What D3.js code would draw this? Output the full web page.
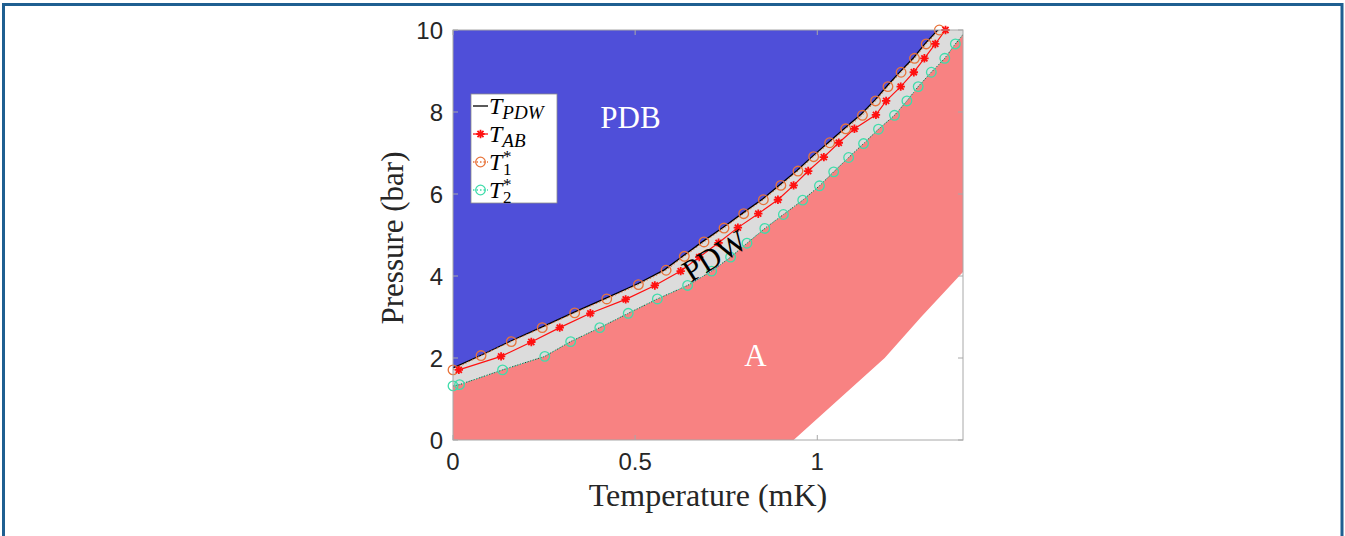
<!DOCTYPE html>
<html>
<head>
<meta charset="utf-8">
<script src="https://cdn.jsdelivr.net/npm/d3@7"></script>
<style>
  html, body { margin: 0; padding: 0; background: #ffffff; }
  svg { display: block; }
</style>
</head>
<body>
<svg id="phase-chart"></svg>
<script>
// ----- Data: [temperature (mK), pressure (bar)] -----

// T_PDW line (upper edge of the PDW region)
const t_pdw_points = [
    [0, 1.76], [0.08, 2.08], [0.16, 2.42], [0.245, 2.76], [0.333, 3.12], [0.42, 3.46],
    [0.507, 3.81], [0.58, 4.15], [0.633, 4.5], [0.687, 4.85], [0.742, 5.19], [0.796, 5.54],
    [0.85, 5.88], [0.898, 6.23], [0.945, 6.58], [0.988, 6.93], [1.032, 7.27], [1.076, 7.61],
    [1.121, 7.95], [1.158, 8.29], [1.192, 8.64], [1.228, 8.99], [1.265, 9.33], [1.297, 9.68],
    [1.333, 10.02]
];

// T_AB points (red stars)
const t_ab_points = [
    [0.016, 1.71], [0.132, 2.04], [0.215, 2.39], [0.293, 2.74], [0.377, 3.09], [0.474, 3.43],
    [0.554, 3.77], [0.625, 4.12], [0.676, 4.46], [0.729, 4.81], [0.782, 5.18], [0.838, 5.52],
    [0.892, 5.86], [0.935, 6.21], [0.975, 6.56], [1.018, 6.9], [1.059, 7.25], [1.102, 7.59],
    [1.161, 7.93], [1.189, 8.27], [1.229, 8.62], [1.265, 8.97], [1.294, 9.31], [1.324, 9.66],
    [1.352, 10.0]
];

// T1* points (orange circles)
const t1_star_points = [
    [0, 1.71], [0.077, 2.06], [0.16, 2.4], [0.245, 2.74], [0.334, 3.1], [0.422, 3.44],
    [0.509, 3.79], [0.585, 4.14], [0.635, 4.48], [0.689, 4.83], [0.744, 5.17], [0.798, 5.52],
    [0.852, 5.86], [0.9, 6.21], [0.947, 6.56], [0.99, 6.91], [1.034, 7.25], [1.078, 7.59],
    [1.124, 7.92], [1.16, 8.27], [1.194, 8.62], [1.23, 8.97], [1.267, 9.31], [1.299, 9.66],
    [1.335, 10.0]
];

// T2* points (green circles, lower edge of the PDW region)
const t2_star_points = [
    [0, 1.32], [0.018, 1.35], [0.136, 1.71], [0.252, 2.04], [0.323, 2.4], [0.403, 2.74],
    [0.481, 3.09], [0.561, 3.44], [0.644, 3.77], [0.71, 4.12], [0.762, 4.46], [0.807, 4.8],
    [0.856, 5.16], [0.907, 5.5], [0.96, 5.85], [1.006, 6.2], [1.045, 6.54], [1.086, 6.89],
    [1.127, 7.23], [1.168, 7.58], [1.212, 7.92], [1.246, 8.27], [1.277, 8.62], [1.313, 8.97],
    [1.35, 9.31], [1.379, 9.66], [1.415, 10.05]
];

// Lower edge of the A region (white area below it)
const a_lower_points = [[0.935, 0], [1.06, 1.0], [1.185, 2.0], [1.285, 3.0], [1.40, 4.1], [1.42, 4.3]];

// Axis ticks
const x_ticks = [0, 0.5, 1];
const x_tick_labels = ["0", "0.5", "1"];
const y_ticks = [0, 2, 4, 6, 8, 10];
const y_tick_labels = ["0", "2", "4", "6", "8", "10"];

// Region labels
const region_labels = [
    { text: "PDB", T: 0.487, P: 7.6, color: "#ffffff", angle: 0 },
    { text: "A", T: 0.830, P: 1.80, color: "#ffffff", angle: 0 },
    { text: "PDW", T: 0.733, P: 4.28, color: "#000000", angle: -32 }
];

// ----- Layout -----
const width = 1345, height = 536;
const plot_left = 453, plot_right = 963, plot_top = 30, plot_bottom = 440;

const svg = d3.select('#phase-chart')
    .attr('width', width)
    .attr('height', height);

// Outer frame around the figure
svg.append('rect')
    .attr('x', 3.5).attr('y', 4.5)
    .attr('width', 1338.5).attr('height', 540)
    .attr('fill', 'none')
    .attr('stroke', '#1f5f91')
    .attr('stroke-width', 3);

const x = d3.scaleLinear().domain([0, 1.4]).range([plot_left, plot_right]);
const y = d3.scaleLinear().domain([0, 10]).range([plot_bottom, plot_top]);

svg.append('clipPath').attr('id', 'plot-clip')
    .append('rect')
    .attr('x', plot_left).attr('y', plot_top)
    .attr('width', plot_right - plot_left).attr('height', plot_bottom - plot_top);

const plot = svg.append('g').attr('clip-path', 'url(#plot-clip)');

const x_min = x.domain()[0], x_max = x.domain()[1];
const y_min = y.domain()[0], y_max = y.domain()[1];

const polygon = d3.line().x(d => x(d[0])).y(d => y(d[1]));
const curve = d3.line().x(d => x(d[0])).y(d => y(d[1]));

// PDB region (everything above T_PDW)
plot.append('rect')
    .attr('x', plot_left).attr('y', plot_top)
    .attr('width', plot_right - plot_left).attr('height', plot_bottom - plot_top)
    .attr('fill', '#4f4fd9');

// PDW region (below T_PDW)
plot.append('path')
    .attr('d', polygon([[x_min, y_min]].concat(t_pdw_points, [[x_max + 0.1, y_max + 0.1], [x_max + 0.1, y_min]])) + 'Z')
    .attr('fill', '#dcdcdc');

// A region (below T2*)
plot.append('path')
    .attr('d', polygon([[x_min, y_min]].concat(t2_star_points, [[x_max + 0.1, y_max + 0.1], [x_max + 0.1, y_min]])) + 'Z')
    .attr('fill', '#f88282');

// White area under the A region
plot.append('path')
    .attr('d', polygon(a_lower_points.concat([[x_max + 0.1, y_min]])) + 'Z')
    .attr('fill', '#ffffff');

// Dotted dark edge of the A region
plot.append('path')
    .attr('d', curve(t2_star_points))
    .attr('fill', 'none')
    .attr('stroke', '#1c3a2e')
    .attr('stroke-width', 1)
    .attr('stroke-dasharray', '1.2,1.5');

// T_PDW black line
plot.append('path')
    .attr('d', curve(t_pdw_points))
    .attr('fill', 'none')
    .attr('stroke', '#000000')
    .attr('stroke-width', 1.3);

// Star marker like MATLAB '*'
function star_path(r) {
    const a = r * 0.72;
    return 'M' + (-r) + ',0L' + r + ',0M0,' + (-r) + 'L0,' + r +
        'M' + (-a) + ',' + (-a) + 'L' + a + ',' + a + 'M' + (-a) + ',' + a + 'L' + a + ',' + (-a);
}

const inside = d => d[0] >= x_min && d[0] <= x_max && d[1] >= y_min && d[1] <= y_max;

// Markers are not clipped (like MATLAB)
const markers = svg.append('g');

// T_AB red line
plot.append('path')
    .attr('d', curve(t_ab_points))
    .attr('fill', 'none')
    .attr('stroke', '#ff1010')
    .attr('stroke-width', 1.2);

// T1* orange dotted line
plot.append('path')
    .attr('d', curve(t1_star_points))
    .attr('fill', 'none')
    .attr('stroke', '#e8743b')
    .attr('stroke-width', 1)
    .attr('stroke-dasharray', '1.5,2');

// T2* green dotted line
plot.append('path')
    .attr('d', curve(t2_star_points))
    .attr('fill', 'none')
    .attr('stroke', '#3fdcaa')
    .attr('stroke-width', 1)
    .attr('stroke-dasharray', '1.5,2');

markers.selectAll('.t1-circle')
    .data(t1_star_points.filter(inside))
    .enter()
    .append('circle')
    .attr('class', 't1-circle')
    .attr('cx', d => x(d[0]))
    .attr('cy', d => y(d[1]))
    .attr('r', 4.8)
    .attr('fill', 'none')
    .attr('stroke', '#e8743b')
    .attr('stroke-width', 1.3);

markers.selectAll('.t2-circle')
    .data(t2_star_points.filter(inside))
    .enter()
    .append('circle')
    .attr('class', 't2-circle')
    .attr('cx', d => x(d[0]))
    .attr('cy', d => y(d[1]))
    .attr('r', 4.8)
    .attr('fill', 'none')
    .attr('stroke', '#3fdcaa')
    .attr('stroke-width', 1.3);

markers.selectAll('.ab-star')
    .data(t_ab_points.filter(inside))
    .enter()
    .append('path')
    .attr('class', 'ab-star')
    .attr('transform', d => 'translate(' + x(d[0]) + ',' + y(d[1]) + ')')
    .attr('d', star_path(4.2))
    .attr('stroke', '#ff1010')
    .attr('stroke-width', 1.8)
    .attr('fill', 'none');

// Region labels
region_labels.forEach(function (lbl) {
    svg.append('text')
        .attr('transform', 'translate(' + x(lbl.T) + ',' + y(lbl.P) + ') rotate(' + lbl.angle + ')')
        .attr('text-anchor', 'middle')
        .style('font-family', '"Liberation Serif", serif')
        .style('font-size', '31px')
        .attr('fill', lbl.color)
        .text(lbl.text);
});

// Axes box
svg.append('rect')
    .attr('x', plot_left).attr('y', plot_top)
    .attr('width', plot_right - plot_left).attr('height', plot_bottom - plot_top)
    .attr('fill', 'none')
    .attr('stroke', '#a8a8a8')
    .attr('stroke-width', 1);

// Tick marks (inside, on all four sides)
x_ticks.forEach(function (t) {
    svg.append('line').attr('x1', x(t)).attr('x2', x(t)).attr('y1', plot_bottom).attr('y2', plot_bottom - 5)
        .attr('stroke', '#a8a8a8');
    svg.append('line').attr('x1', x(t)).attr('x2', x(t)).attr('y1', plot_top).attr('y2', plot_top + 5)
        .attr('stroke', '#a8a8a8');
});
y_ticks.forEach(function (p) {
    svg.append('line').attr('x1', plot_left).attr('x2', plot_left + 5).attr('y1', y(p)).attr('y2', y(p))
        .attr('stroke', '#a8a8a8');
    svg.append('line').attr('x1', plot_right).attr('x2', plot_right - 5).attr('y1', y(p)).attr('y2', y(p))
        .attr('stroke', '#a8a8a8');
});

// Tick labels
svg.selectAll('.x-tick-label')
    .data(x_ticks)
    .enter()
    .append('text')
    .attr('class', 'x-tick-label')
    .attr('x', d => x(d))
    .attr('y', 470)
    .attr('text-anchor', 'middle')
    .style('font-family', '"Liberation Sans", Arial, sans-serif')
    .style('font-size', '24px')
    .attr('fill', '#262626')
    .text((d, i) => x_tick_labels[i]);

svg.selectAll('.y-tick-label')
    .data(y_ticks)
    .enter()
    .append('text')
    .attr('class', 'y-tick-label')
    .attr('x', 443)
    .attr('y', d => y(d) + 9)
    .attr('text-anchor', 'end')
    .style('font-family', '"Liberation Sans", Arial, sans-serif')
    .style('font-size', '24px')
    .attr('fill', '#262626')
    .text((d, i) => y_tick_labels[i]);

// Axis titles
svg.append('text')
    .attr('x', 708).attr('y', 506)
    .attr('text-anchor', 'middle')
    .style('font-family', '"Liberation Serif", serif')
    .style('font-size', '32px')
    .attr('fill', '#262626')
    .text('Temperature (mK)');

svg.append('text')
    .attr('transform', 'translate(403,238) rotate(-90)')
    .attr('text-anchor', 'middle')
    .style('font-family', '"Liberation Serif", serif')
    .style('font-size', '31px')
    .attr('fill', '#262626')
    .text('Pressure (bar)');

// ----- Legend -----
const legend = svg.append('g').attr('transform', 'translate(471,94)');
legend.append('rect')
    .attr('width', 86).attr('height', 109)
    .attr('fill', '#ffffff')
    .attr('stroke', '#8c8c8c')
    .attr('stroke-width', 0.8);

const legend_rows = [
    { color: '#000000', dash: null, marker: null, sub: 'PDW', sub_italic: true, sup: null },
    { color: '#ff1010', dash: null, marker: 'star', sub: 'AB', sub_italic: true, sup: null },
    { color: '#e8743b', dash: '1.5,2', marker: 'circle', sub: '1', sub_italic: false, sup: '*' },
    { color: '#3fdcaa', dash: '1.5,2', marker: 'circle', sub: '2', sub_italic: false, sup: '*' }
];

legend_rows.forEach(function (row, i) {
    const cy = 12 + i * 28;
    legend.append('line')
        .attr('x1', 2).attr('x2', 17).attr('y1', cy).attr('y2', cy)
        .attr('stroke', row.color)
        .attr('stroke-width', 1.3)
        .attr('stroke-dasharray', row.dash);
    if (row.marker === 'star') {
        legend.append('path')
            .attr('transform', 'translate(9.5,' + cy + ')')
            .attr('d', star_path(4.2))
            .attr('stroke', row.color).attr('stroke-width', 1.8).attr('fill', 'none');
    } else if (row.marker === 'circle') {
        legend.append('circle')
            .attr('cx', 9.5).attr('cy', cy).attr('r', 4.8)
            .attr('fill', 'none').attr('stroke', row.color).attr('stroke-width', 1.3);
    }
    // One text element: italic T with its subscript (and superscript star)
    const label = legend.append('text')
        .attr('x', 18).attr('y', cy + 8)
        .style('font-family', '"Liberation Serif", serif')
        .style('font-size', '24px')
        .attr('fill', '#000000');
    label.append('tspan')
        .style('font-style', 'italic')
        .text('T');
    if (row.sup) {
        label.append('tspan')
            .attr('x', 32).attr('dy', -8)
            .style('font-size', '17px')
            .text(row.sup);
        label.append('tspan')
            .attr('x', 32).attr('dy', 13)
            .style('font-size', '17px')
            .text(row.sub);
    } else {
        label.append('tspan')
            .attr('dy', 5)
            .style('font-style', row.sub_italic ? 'italic' : 'normal')
            .style('font-size', '19px')
            .text(row.sub);
    }
});
</script>
</body>
</html>
